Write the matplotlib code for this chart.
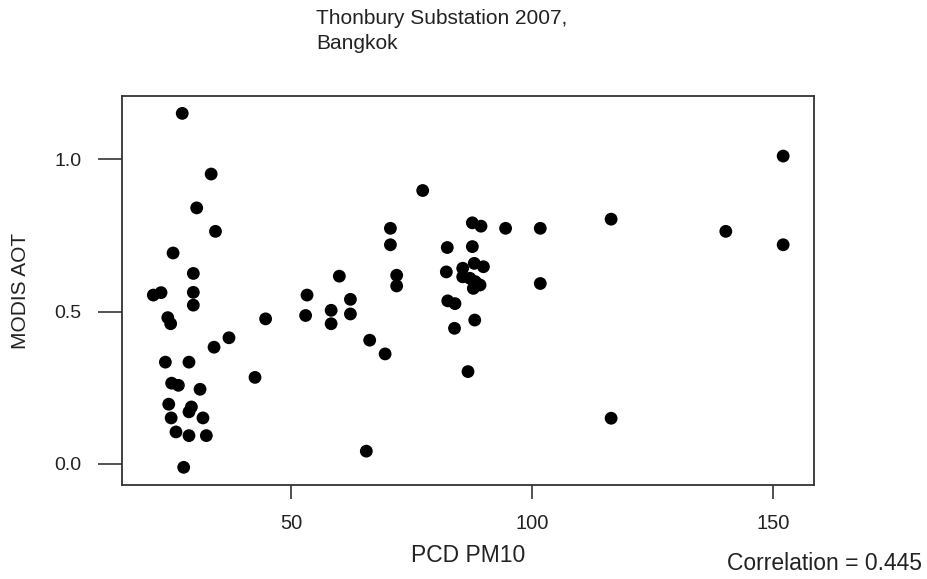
import matplotlib
matplotlib.use("Agg")
import matplotlib.pyplot as plt

pm10 = [27.4, 33.4, 30.4, 34.3, 25.5, 29.7, 60.0,
        21.4, 23.0, 29.7, 29.7, 24.4, 25.0, 44.7, 37.1, 34.0,
        53.3, 53.0, 58.3, 58.3, 62.3, 62.3, 66.3,
        23.9, 28.8, 42.5, 25.2, 26.6, 31.1, 24.6, 29.3, 28.8,
        25.1, 31.7, 26.1, 28.8, 32.4, 27.7, 65.6,
        77.3, 70.6, 70.6, 71.9, 71.9, 82.4, 82.2, 82.5, 84.0, 83.9,
        87.6, 89.4, 94.5, 101.7, 87.6, 85.6, 85.6, 88.0, 89.9, 87.1,
        88.2, 89.2, 87.8, 101.7, 88.1, 86.7, 69.5,
        152.1, 152.1, 116.4, 140.2, 116.4]
aot = [1.15, 0.951, 0.84, 0.763, 0.692, 0.625, 0.616,
       0.554, 0.562, 0.563, 0.521, 0.48, 0.46, 0.476, 0.414, 0.383,
       0.554, 0.487, 0.504, 0.46, 0.54, 0.492, 0.406,
       0.334, 0.334, 0.284, 0.265, 0.258, 0.245, 0.196, 0.187, 0.171,
       0.151, 0.151, 0.105, 0.093, 0.093, -0.011, 0.042,
       0.897, 0.773, 0.719, 0.619, 0.584, 0.710, 0.630, 0.535, 0.526, 0.445,
       0.791, 0.780, 0.773, 0.773, 0.713, 0.642, 0.614, 0.658, 0.647, 0.609,
       0.598, 0.587, 0.576, 0.592, 0.472, 0.303, 0.361,
       1.01, 0.719, 0.803, 0.763, 0.150]

xticks = [50, 100, 150]
yticks = [0.0, 0.5, 1.0]
ytick_labels = ["0.0", "0.5", "1.0"]

plt.rcParams['font.family'] = ['Liberation Sans', 'DejaVu Sans']
txt = '#222222'

fig = plt.figure(figsize=(9.27, 5.79), dpi=100)
ax = fig.add_axes([122/927, 1-485/579, 692/927, 389/579])
ax.scatter(pm10, aot, s=85, color='black', edgecolors='none', zorder=3)
ax.set_xlim(14.9, 158.5)
ax.set_ylim(-0.069, 1.207)
ax.set_xticks(xticks)
ax.set_yticks(yticks)
ax.set_yticklabels(ytick_labels)
for s in ax.spines.values():
    s.set_color('#333333')
    s.set_linewidth(1.3)
ax.tick_params(axis='x', length=10, width=1.2, color='#333333', pad=11,
               labelsize=14.5, labelcolor=txt)
ax.tick_params(axis='y', length=17, width=1.2, color='#333333', pad=12,
               labelsize=14, labelcolor=txt)
ax.set_xlabel('PCD PM10', fontsize=16.5, color=txt, labelpad=8)
ax.set_ylabel('MODIS AOT', fontsize=15, color=txt, labelpad=18)
fig.text(316/927, 1-9/579, 'Thonbury Substation 2007,\nBangkok', ha='left', va='top',
         fontsize=15, color=txt, linespacing=1.4)
fig.text(922/927, 1-564/579, 'Correlation = 0.445', ha='right', va='center',
         fontsize=16.5, color=txt)
fig.savefig('out.png', dpi=100, facecolor='white')
